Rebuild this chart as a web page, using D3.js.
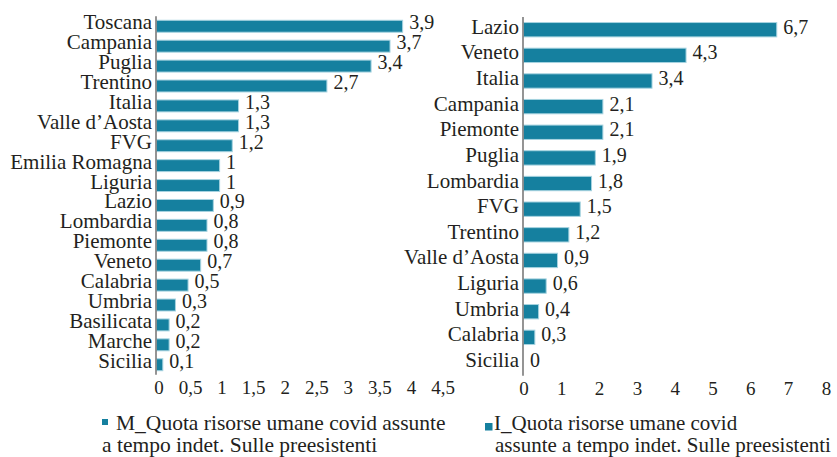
<!DOCTYPE html>
<html>
<head>
<meta charset="utf-8">
<script src="https://cdn.jsdelivr.net/npm/d3@7"></script>
<style>
  html, body { margin: 0; padding: 0; background: #ffffff; }
  svg { display: block; }
  text { font-family: "Liberation Serif", "Times New Roman", serif; fill: #231f20; }
</style>
</head>
<body>
<svg id="chart" width="837" height="457"></svg>
<script>
// ---- data ----
const leftCategories = ["Toscana","Campania","Puglia","Trentino","Italia","Valle d\u2019Aosta","FVG","Emilia Romagna","Liguria","Lazio","Lombardia","Piemonte","Veneto","Calabria","Umbria","Basilicata","Marche","Sicilia"];
const leftValues = [3.9,3.7,3.4,2.7,1.3,1.3,1.2,1,1,0.9,0.8,0.8,0.7,0.5,0.3,0.2,0.2,0.1];
const leftTicks = [0,0.5,1,1.5,2,2.5,3,3.5,4,4.5];

const rightCategories = ["Lazio","Veneto","Italia","Campania","Piemonte","Puglia","Lombardia","FVG","Trentino","Valle d\u2019Aosta","Liguria","Umbria","Calabria","Sicilia"];
const rightValues = [6.7,4.3,3.4,2.1,2.1,1.9,1.8,1.5,1.2,0.9,0.6,0.4,0.3,0];
const rightTicks = [0,1,2,3,4,5,6,7,8];

const leftLegend = ["M_Quota risorse umane covid assunte", "a tempo indet. Sulle preesistenti"];
const rightLegend = ["I_Quota risorse umane covid", "assunte a tempo indet. Sulle preesistenti"];

const barColor = "#15809f";
const barStroke = "#a6d3e0";
const fmt = v => String(v).replace(".", ",");

const svg = d3.select("#chart");

function panel(cfg) {
  const x = d3.scaleLinear().domain(cfg.domain).range(cfg.xRange);
  const y = d3.scaleBand().domain(cfg.categories).range(cfg.yRange)
    .paddingInner(cfg.padInner).paddingOuter(cfg.padOuter);
  const g = svg.append("g");
  const data = cfg.categories.map((c, i) => ({c, v: cfg.values[i]}));

  g.selectAll("rect.bar").data(data.filter(d => d.v > 0)).enter().append("rect")
    .attr("class", "bar")
    .attr("x", x(0) + 0.5)
    .attr("y", d => y(d.c))
    .attr("width", d => x(d.v) - x(0))
    .attr("height", y.bandwidth())
    .attr("fill", barColor)
    .attr("stroke", barStroke)
    .attr("stroke-width", 1);

  // vertical axis line
  g.append("line")
    .attr("x1", x(0)).attr("x2", x(0))
    .attr("y1", cfg.yRange[0]).attr("y2", cfg.yRange[1])
    .attr("stroke", "#7a7a7a").attr("stroke-width", 1.6);

  // category labels
  g.selectAll("text.cat").data(data).enter().append("text")
    .attr("class", "cat")
    .attr("x", x(0) - 4)
    .attr("y", d => y(d.c) + y.bandwidth() / 2 + cfg.baseOff)
    .attr("text-anchor", "end")
    .style("font-size", "21px")
    .text(d => d.c);

  // value labels
  g.selectAll("text.val").data(data).enter().append("text")
    .attr("class", "val")
    .attr("x", d => x(d.v) + 7)
    .attr("y", d => y(d.c) + y.bandwidth() / 2 + cfg.baseOff)
    .style("font-size", "20px")
    .text(d => fmt(d.v));

  // x tick labels
  g.selectAll("text.tick").data(cfg.ticks).enter().append("text")
    .attr("class", "tick")
    .attr("x", d => x(d) + cfg.tickDx)
    .attr("y", cfg.tickY)
    .attr("text-anchor", "middle")
    .style("font-size", "19px")
    .text(d => fmt(d));
}

panel({
  categories: leftCategories, values: leftValues, ticks: leftTicks,
  domain: [0, 4.5], xRange: [156, 440],
  yRange: [16.3, 374.7], padInner: 0.4, padOuter: 0.2,
  baseOff: 3, tickY: 394, tickDx: 3
});

panel({
  categories: rightCategories, values: rightValues, ticks: rightTicks,
  domain: [0, 8], xRange: [523, 825.4],
  yRange: [16.9, 375.8], padInner: 0.44, padOuter: 0.22,
  baseOff: 4, tickY: 395, tickDx: 1
});

// legends
function legend(lines, sq, tx, ty, fs) {
  const g = svg.append("g");
  g.append("rect").attr("x", sq[0]).attr("y", sq[1]).attr("width", sq[2]).attr("height", sq[2]).attr("fill", barColor);
  lines.forEach((t, i) => {
    g.append("text").attr("x", tx[i]).attr("y", ty + i * 22)
      .style("font-size", fs).text(t);
  });
}
legend(leftLegend, [102, 419, 6], [116, 102], 430, "21.5px");
legend(rightLegend, [485, 423, 7.5], [494, 495], 429.5, "21px");
</script>
</body>
</html>
